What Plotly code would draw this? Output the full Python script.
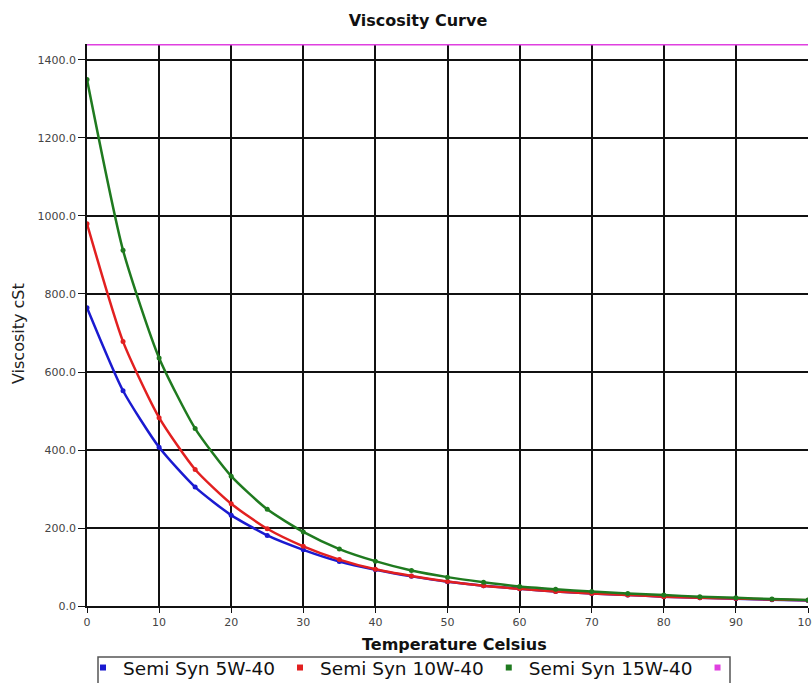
import plotly.graph_objects as go

temperature = [0, 5, 10, 15, 20, 25, 30, 35, 40, 45, 50, 55, 60, 65, 70, 75, 80, 85, 90, 95, 100]
syn_5w40 = [765, 552, 407, 305, 233, 181, 144, 114, 93, 76, 62, 52, 44, 37, 32, 28, 24, 21, 18.5, 16, 14]
syn_10w40 = [980, 678, 483, 350, 262, 198, 153, 119, 94, 77, 63, 52, 44, 37, 32, 28, 24, 21, 19, 16.5, 14.5]
syn_15w40 = [1350, 912, 636, 455, 333, 248, 190, 146, 115, 91, 74, 61, 50, 43, 37, 32, 28, 24, 21, 18, 15.5]
limit_line = [1441] * len(temperature)

series_names = ["Semi Syn 5W-40", "Semi Syn 10W-40", "Semi Syn 15W-40", " "]
colors = ["#1a1ad0", "#e22020", "#1f7a1f", "#e040e0"]
y_ticks = [0, 200, 400, 600, 800, 1000, 1200, 1400]
x_ticks = [0, 10, 20, 30, 40, 50, 60, 70, 80, 90, 100]

FONT = "DejaVu Sans, Verdana, sans-serif"

# pixel helpers for layout placement (plot area: x 87..808, y 44..606)
def px_x(p):
    return (p - 87) / 721

def px_y(p):
    return (606 - p) / 562

fig = go.Figure()
for name, vals, col in zip(series_names[:3], [syn_5w40, syn_10w40, syn_15w40], colors[:3]):
    fig.add_trace(go.Scatter(x=temperature, y=vals, mode="lines+markers", name=name,
                             line=dict(color=col, width=2.5, shape="spline", smoothing=0.6),
                             marker=dict(color=col, size=5), showlegend=False))
fig.add_trace(go.Scatter(x=temperature, y=limit_line, mode="lines", name=series_names[3],
                         line=dict(color=colors[3], width=3), showlegend=False, cliponaxis=False))

# legend entries
for name, col in zip(series_names, colors):
    fig.add_trace(go.Scatter(x=[None], y=[None], mode="markers", name=name,
                             marker=dict(color=col, size=6, symbol="square")))

fig.update_layout(
    width=812, height=683,
    margin=dict(l=87, r=4, t=44, b=77, autoexpand=False),
    paper_bgcolor="white", plot_bgcolor="white",
    font=dict(family=FONT, color="#222"),
    title=dict(text="<b>Viscosity Curve</b>", x=418/812, xref="container", xanchor="center",
               y=1-20/683, yref="container", yanchor="middle",
               font=dict(size=16, color="#111", family=FONT)),
    showlegend=True,
    legend=dict(orientation="h", x=px_x(83), y=px_y(649), xanchor="left", yanchor="top",
                borderwidth=0, font=dict(size=18.5, family=FONT, color="#111"),
                itemwidth=30, tracegroupgap=0, bgcolor="rgba(0,0,0,0)"),
    shapes=[dict(type="rect", xref="paper", yref="paper", x0=px_x(98), x1=px_x(730),
                 y0=px_y(657), y1=px_y(695), line=dict(color="#555", width=1.5),
                 fillcolor="rgba(0,0,0,0)", layer="below")],
    xaxis=dict(range=[0, 100], tickvals=x_ticks, showgrid=True, gridcolor="#111", gridwidth=1.5,
               showline=True, linecolor="#111", linewidth=1.5, ticks="outside", ticklen=5,
               tickcolor="#111", zeroline=False, ticklabeloverflow="allow",
               tickfont=dict(size=11, color="#444", family=FONT)),
    yaxis=dict(range=[0, 1441], tickvals=y_ticks, tickformat=".1f", showgrid=True, gridcolor="#111",
               gridwidth=1.5, showline=True, linecolor="#111", linewidth=1.5, ticks="outside",
               ticklen=7, tickcolor="#111", zeroline=False,
               tickfont=dict(size=11, color="#444", family=FONT)),
    annotations=[
        dict(text="<b>Temperature Celsius</b>", xref="paper", yref="paper", x=px_x(454),
             y=px_y(644), xanchor="center", yanchor="middle", showarrow=False,
             font=dict(size=16, color="#111", family=FONT)),
        dict(text="Viscosity cSt", xref="paper", yref="paper", x=px_x(18), y=px_y(334),
             xanchor="center", yanchor="middle", showarrow=False, textangle=-90,
             font=dict(size=16, color="#222", family=FONT)),
    ],
)

fig.write_html("out.html")
